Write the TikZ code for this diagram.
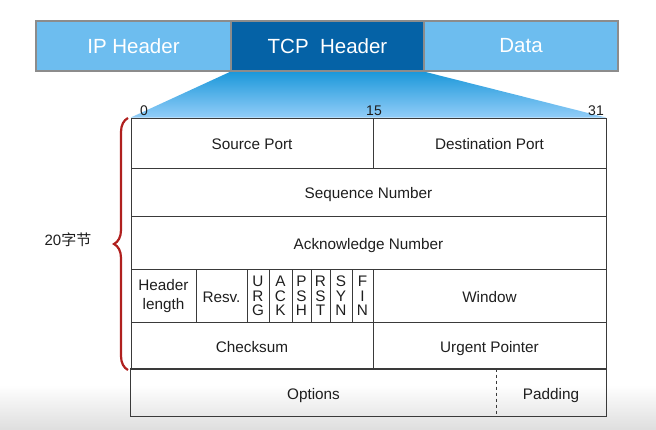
\documentclass[tikz,border=0pt]{standalone}
\usepackage{fontspec}
\setmainfont{Liberation Sans}
\newfontfamily\cjk{Noto Sans CJK SC}
\usetikzlibrary{backgrounds,decorations.pathreplacing}
\definecolor{lightblue}{HTML}{6DBDEF}
\definecolor{darkblue}{HTML}{0562A6}
\definecolor{barborder}{HTML}{8C8C8C}
\definecolor{gradtop}{HTML}{1C98DA}
\definecolor{gradbot}{HTML}{92CDF8}
\definecolor{bracered}{HTML}{B0201E}
\definecolor{celltext}{HTML}{1E1E1E}
\definecolor{cellline}{HTML}{3A3A3A}
\tikzset{
  barbox/.style={draw=barborder, line width=1.6pt, inner sep=0pt, minimum height=50pt,
    text=white, font=\fontsize{20.5}{23}\selectfont},
  cell/.style={draw=cellline, line width=0.8pt, inner sep=0pt, text=celltext,
    font=\fontsize{15.3}{18}\selectfont, align=center},
  oneline/.style={cell, text height=14pt, text depth=0pt},
  flag/.style={cell, minimum height=53pt, font=\fontsize{15.3}{14.5}\selectfont},
  bitnum/.style={text=celltext, font=\fontsize{14}{16}\selectfont, inner sep=0pt},
}
\begin{document}
\begin{tikzpicture}[x=1pt,y=-1pt]
\useasboundingbox (0,0) rectangle (656,430);
% top bar
\node[barbox, fill=lightblue, minimum width=195pt] (ip) at (133.5,46) {IP Header};
\node[barbox, fill=darkblue, minimum width=193pt] (tcp) at (327.5,46) {TCP\ \ Header};
\node[barbox, fill=lightblue, minimum width=194pt] (data) at (521,46) {Data};
% table rows
\node[oneline, minimum width=242pt, minimum height=50pt] (sp) at (252,143) {Source Port};
\node[oneline, minimum width=233pt, minimum height=50pt] (dp) at (489.5,143) {Destination Port};
\node[oneline, minimum width=475pt, minimum height=48pt] (seq) at (368.5,192) {Sequence Number};
\node[oneline, minimum width=475pt, minimum height=53pt] (ackn) at (368.5,242.5) {Acknowledge Number};
\node[cell, minimum width=65pt, minimum height=53pt, font=\fontsize{15.3}{18.5}\selectfont] (hl) at (163.5,296) {Header\\length};
\node[oneline, minimum width=51pt, minimum height=53pt] (resv) at (221.5,295.5) {Resv.};
\node[flag, minimum width=22pt] (urg) at (258,296) {U\\R\\G};
\node[flag, minimum width=23pt] (ack) at (280.5,296) {A\\C\\K};
\node[flag, minimum width=19pt] (psh) at (301.5,296) {P\\S\\H};
\node[flag, minimum width=19pt] (rst) at (320.5,296) {R\\S\\T};
\node[flag, minimum width=22pt] (syn) at (341,296) {S\\Y\\N};
\node[flag, minimum width=21pt] (fin) at (362.5,296) {F\\I\\N};
\node[oneline, minimum width=233pt, minimum height=53pt] (win) at (489.5,295.5) {Window};
\node[oneline, minimum width=242pt, minimum height=47pt] (cks) at (252,345.5) {Checksum};
\node[oneline, minimum width=233pt, minimum height=47pt] (uptr) at (489.5,345.5) {Urgent Pointer};
\node[oneline, draw=none, minimum width=365pt, minimum height=47pt] (opt) at (313.5,392.5) {Options};
\node[oneline, draw=none, minimum width=110pt, minimum height=47pt] (pad) at (551,392.5) {Padding};
\draw[cellline, line width=0.8pt] (opt.north west) rectangle (pad.south east);
\draw[cellline, line width=0.6pt, dashed] (opt.north east) -- (opt.south east);
% bit numbers
\node[bitnum, anchor=base] (b0) at (144,116) {0};
\node[bitnum, anchor=base] (b15) at (374,116) {15};
\node[bitnum, anchor=base] (b31) at (596,116) {31};
% brace
\coordinate (brtop) at (128,118);
\coordinate (brbot) at (128,370);
\draw[bracered, line width=2.2pt, decorate, decoration={brace, amplitude=14pt}] (brbot) -- (brtop);
\node[text=celltext, font=\fontsize{15}{17}\selectfont, inner sep=0pt] (bytes) at (68,240) {20{\cjk 字节}};
% background layer
\begin{pgfonlayer}{background}
\shade[top color=white, bottom color=black!13] (0,385) rectangle (656,430);
\shade[top color=gradtop, bottom color=gradbot] (tcp.south west) -- (tcp.south east) -- (dp.north east) -- (sp.north west) -- cycle;
\end{pgfonlayer}
\end{tikzpicture}
\end{document}
